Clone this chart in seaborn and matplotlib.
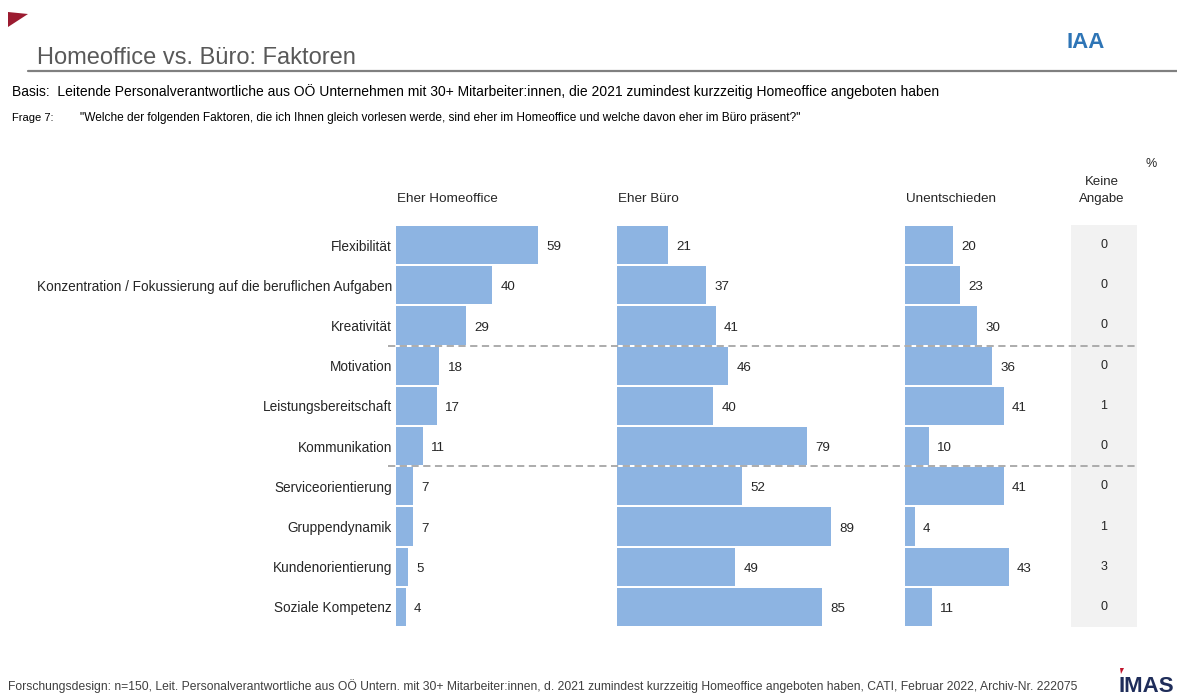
import matplotlib
matplotlib.use("Agg")
import matplotlib.pyplot as plt
import matplotlib.transforms as mtransforms
from matplotlib.patches import Polygon
from matplotlib.lines import Line2D
import seaborn as sns
import pandas as pd

# ---- data -------------------------------------------------------------
factors = [
    "Flexibilität",
    "Konzentration / Fokussierung auf die beruflichen Aufgaben",
    "Kreativität",
    "Motivation",
    "Leistungsbereitschaft",
    "Kommunikation",
    "Serviceorientierung",
    "Gruppendynamik",
    "Kundenorientierung",
    "Soziale Kompetenz",
]
homeoffice = [59, 40, 29, 18, 17, 11, 7, 7, 5, 4]
buero = [21, 37, 41, 46, 40, 79, 52, 89, 49, 85]
unentschieden = [20, 23, 30, 36, 41, 10, 41, 4, 43, 11]
keine_angabe = [0, 0, 0, 0, 1, 0, 0, 1, 3, 0]
group_breaks = [2.5, 5.5]

column_titles = ["Eher Homeoffice", "Eher Büro", "Unentschieden"]

# ---- styling ----------------------------------------------------------
sns.set_theme(style="white")
plt.rcParams["font.family"] = ["Liberation Sans", "DejaVu Sans"]

W, H = 1177, 698
BAR = "#8DB4E2"
TXT = "#262626"
GREY = "#A6A6A6"

fig = plt.figure(figsize=(W / 100, H / 100), dpi=100)
fig.patch.set_facecolor("white")


def fx(x):
    return x / W


def fy(y):
    return 1 - y / H


def px_axes(left, top, width, height):
    return fig.add_axes([fx(left), fy(top + height), width / W, height / H])


ROW_TOP, ROW_BOTTOM = 224.9, 627.1
PX_PER_UNIT = 2.41

panels = [
    (396, 90, homeoffice),
    (617, 100, buero),
    (905, 65, unentschieden),
]

axes = []
for i, (left, xmax, vals) in enumerate(panels):
    ax = px_axes(left, ROW_TOP, xmax * PX_PER_UNIT, ROW_BOTTOM - ROW_TOP)
    df = pd.DataFrame({"Faktor": factors, "Wert": vals})
    sns.barplot(data=df, x="Wert", y="Faktor", orient="h", color=BAR,
                saturation=1, width=0.95, ax=ax, linewidth=0)
    ax.set_xlim(0, xmax)
    ax.set_ylim(len(factors) - 0.5, -0.5)
    ax.set_xticks([])
    ax.set_xlabel("")
    ax.set_ylabel("")
    for s in ax.spines.values():
        s.set_visible(False)
    if i == 0:
        ax.tick_params(axis="y", length=0, pad=3, labelsize=9.8, labelcolor=TXT)
    else:
        ax.set_yticks([])
    for j, v in enumerate(vals):
        ax.annotate(str(v), xy=(v, j), xytext=(6, -1.5), textcoords="offset points",
                    ha="left", va="center", fontsize=9.6, color=TXT)
    ax.set_facecolor("none")
    axes.append(ax)

# "Keine Angabe" column
axk = px_axes(1071, ROW_TOP, 66, ROW_BOTTOM - ROW_TOP)
axk.set_facecolor("#F2F2F2")
axk.set_xlim(0, 1)
axk.set_ylim(len(factors) - 0.5, -0.5)
axk.set_xticks([])
axk.set_yticks([])
for s in axk.spines.values():
    s.set_visible(False)
for j, v in enumerate(keine_angabe):
    axk.text(0.5, j, str(v), ha="center", va="center", fontsize=9, color=TXT)

# dashed group separators across all columns
blend = mtransforms.blended_transform_factory(fig.transFigure, axes[0].transData)
for yb in group_breaks:
    fig.add_artist(Line2D([fx(388), fx(1137)], [yb, yb], transform=blend,
                          color=GREY, lw=1.3, ls=(0, (4, 2.5)), zorder=5))

# column headers
for (left, _, _), title in zip(panels, column_titles):
    fig.text(fx(left + 1), fy(199), title, ha="left", va="center", fontsize=9.7, color=TXT)
fig.text(fx(1102), fy(190.5), "Keine\nAngabe", ha="center", va="center",
         fontsize=9.5, color=TXT, linespacing=1.5)
fig.text(fx(1151), fy(164), "%", ha="center", va="center", fontsize=9, color=TXT)

# header block
fig.add_artist(Polygon([[fx(8), fy(12)], [fx(28), fy(14)], [fx(8), fy(27)]],
                       closed=True, transform=fig.transFigure,
                       facecolor="#9B1B30", edgecolor="none"))
fig.text(fx(37), fy(58), "Homeoffice vs. Büro: Faktoren", ha="left", va="center",
         fontsize=17, color="#595959")
fig.add_artist(Line2D([fx(28), fx(1177)], [fy(71), fy(71)], transform=fig.transFigure,
                      color="#808080", lw=1.6))
fig.text(fx(1066), fy(42), "IAA", ha="left", va="center", fontsize=16,
         fontweight="bold", color="#2E75B6")

fig.text(fx(12), fy(92),
         "Basis:  Leitende Personalverantwortliche aus OÖ Unternehmen mit 30+ "
         "Mitarbeiter:innen, die 2021 zumindest kurzzeitig Homeoffice angeboten haben",
         ha="left", va="center", fontsize=10, color="black")
fig.text(fx(12), fy(118), "Frage 7:", ha="left", va="center", fontsize=8, color="black")
fig.text(fx(80), fy(118),
         "\"Welche der folgenden Faktoren, die ich Ihnen gleich vorlesen werde, sind eher "
         "im Homeoffice und welche davon eher im Büro präsent?\"",
         ha="left", va="center", fontsize=8.6, color="black")

# footer
fig.text(fx(8), fy(686),
         "Forschungsdesign: n=150, Leit. Personalverantwortliche aus OÖ Untern. mit 30+ "
         "Mitarbeiter:innen, d. 2021 zumindest kurzzeitig Homeoffice angeboten haben, "
         "CATI, Februar 2022, Archiv-Nr. 222075",
         ha="left", va="center", fontsize=8.7, color="#404040")
fig.text(fx(1118), fy(686), "IMAS", ha="left", va="center", fontsize=16,
         fontweight="bold", color="#1F2D5A")
fig.add_artist(Polygon([[fx(1120), fy(668)], [fx(1124), fy(668)], [fx(1121), fy(674)]],
                       closed=True, transform=fig.transFigure,
                       facecolor="#C0142B", edgecolor="none"))

fig.savefig("out.png", dpi=100, facecolor="white")
